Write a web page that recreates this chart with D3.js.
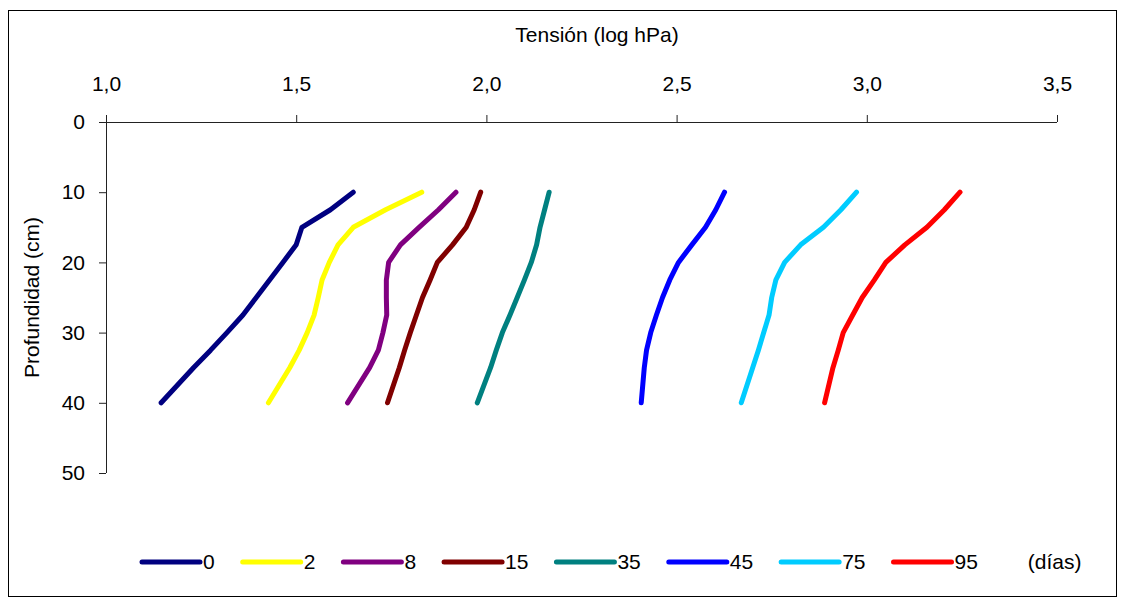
<!DOCTYPE html>
<html>
<head>
<meta charset="utf-8">
<script src="https://cdn.jsdelivr.net/npm/d3@7"></script>
<style>
  body { margin: 0; background: #fff; }
  text { font-family: "Liberation Sans", Arial, sans-serif; fill: #000; }
</style>
</head>
<body>
<div id="chart"></div>
<script>
// depths (cm) at which tension was read
var depths = [10, 12.5, 15, 17.5, 20, 22.5, 25, 27.5, 30, 32.5, 35, 40];

// log hPa per series (days)
var s0  = [1.65, 1.59, 1.515, 1.50, 1.465, 1.43, 1.395, 1.36, 1.318, 1.275, 1.23, 1.145];
var s2  = [1.83, 1.735, 1.65, 1.61, 1.587, 1.568, 1.558, 1.547, 1.529, 1.508, 1.483, 1.427];
var s8  = [1.92, 1.874, 1.823, 1.774, 1.743, 1.737, 1.737, 1.738, 1.728, 1.716, 1.693, 1.635];
var s15 = [1.985, 1.968, 1.947, 1.911, 1.871, 1.852, 1.832, 1.816, 1.80, 1.785, 1.771, 1.74];
var s35 = [2.165, 2.153, 2.141, 2.132, 2.118, 2.10, 2.081, 2.062, 2.042, 2.026, 2.011, 1.976];
var s45 = [2.626, 2.603, 2.576, 2.540, 2.505, 2.482, 2.463, 2.447, 2.432, 2.421, 2.415, 2.407];
var s75 = [2.973, 2.932, 2.886, 2.826, 2.784, 2.761, 2.75, 2.743, 2.729, 2.715, 2.70, 2.67];
var s95 = [3.245, 3.204, 3.158, 3.10, 3.05, 3.02, 2.988, 2.963, 2.938, 2.925, 2.911, 2.889];

var seriesNames = ["0", "2", "8", "15", "35", "45", "75", "95"];
var seriesValues = [s0, s2, s8, s15, s35, s45, s75, s95];
var seriesColors = ["#000080", "#ffff00", "#800080", "#800000", "#008080", "#0000ff", "#00ccff", "#ff0000"];

var xTicks = [1.0, 1.5, 2.0, 2.5, 3.0, 3.5];
var yTicks = [0, 10, 20, 30, 40, 50];

var W = 1125, H = 599;
var fontSize = "21px";
var svg = d3.select("#chart").append("svg")
    .attr("width", W)
    .attr("height", H);

// outer frame
svg.append("rect")
    .attr("x", 8.5).attr("y", 10.5)
    .attr("width", 1108).attr("height", 586)
    .attr("fill", "#fff")
    .attr("stroke", "#000")
    .attr("stroke-width", 1);

var x = d3.scaleLinear().domain([1, 3.5]).range([106, 1057]);
var y = d3.scaleLinear().domain([0, 50]).range([122, 473]);

var fmt = function(v) { return d3.format(".1f")(v).replace(".", ","); };

// top x axis
var xAxis = svg.append("g")
    .attr("transform", "translate(0," + y(0) + ")")
    .call(d3.axisTop(x).tickValues(xTicks).tickSize(7).tickFormat(fmt));
xAxis.select(".domain").attr("d", "M" + x(1) + ",0.5H" + x(3.5));
xAxis.selectAll("text")
    .attr("y", -31)
    .style("font-size", fontSize)
    .style("font-family", "'Liberation Sans', Arial, sans-serif");

// left y axis
var yAxis = svg.append("g")
    .attr("transform", "translate(" + x(1) + ",0)")
    .call(d3.axisLeft(y).tickValues(yTicks).tickSize(7));
yAxis.select(".domain").attr("d", "M0.5," + y(0) + "V" + y(50));
yAxis.selectAll("text")
    .attr("x", -21)
    .style("font-size", fontSize)
    .style("font-family", "'Liberation Sans', Arial, sans-serif");

svg.selectAll(".domain, .tick line").attr("stroke", "#222");

// axis titles
svg.append("text")
    .attr("x", 597).attr("y", 42)
    .attr("text-anchor", "middle")
    .style("font-size", fontSize)
    .text("Tensión (log hPa)");

svg.append("text")
    .attr("transform", "translate(39," + (y(25)) + ") rotate(-90)")
    .attr("text-anchor", "middle")
    .style("font-size", fontSize)
    .text("Profundidad (cm)");

// curves
var line = d3.line()
    .x(function(d) { return x(d[0]); })
    .y(function(d) { return y(d[1]); });

seriesValues.forEach(function(vals, i) {
    var pts = vals.map(function(v, j) { return [v, depths[j]]; });
    svg.append("path")
        .datum(pts)
        .attr("d", line)
        .attr("fill", "none")
        .attr("stroke", seriesColors[i])
        .attr("stroke-width", 5)
        .attr("stroke-linecap", "round")
        .attr("stroke-linejoin", "round");
});

// legend
var legendY = 562;
var legend = svg.append("g");
var lx = 203, lineLen = 58;
seriesNames.forEach(function(name, i) {
    legend.append("line")
        .attr("x1", lx - 3 - lineLen).attr("x2", lx - 3)
        .attr("y1", legendY).attr("y2", legendY)
        .attr("stroke", seriesColors[i])
        .attr("stroke-width", 5)
        .attr("stroke-linecap", "round");
    var t = legend.append("text")
        .attr("x", lx).attr("y", legendY + 7)
        .style("font-size", fontSize)
        .text(name);
    var tw = t.node().getComputedTextLength();
    lx += tw + 28 + lineLen + 3;
    if (i === seriesNames.length - 1) lx = lx - lineLen - 3 - 28 + 50;
});
legend.append("text")
    .attr("x", lx).attr("y", legendY + 7)
    .style("font-size", fontSize)
    .text("(días)");
</script>
</body>
</html>
